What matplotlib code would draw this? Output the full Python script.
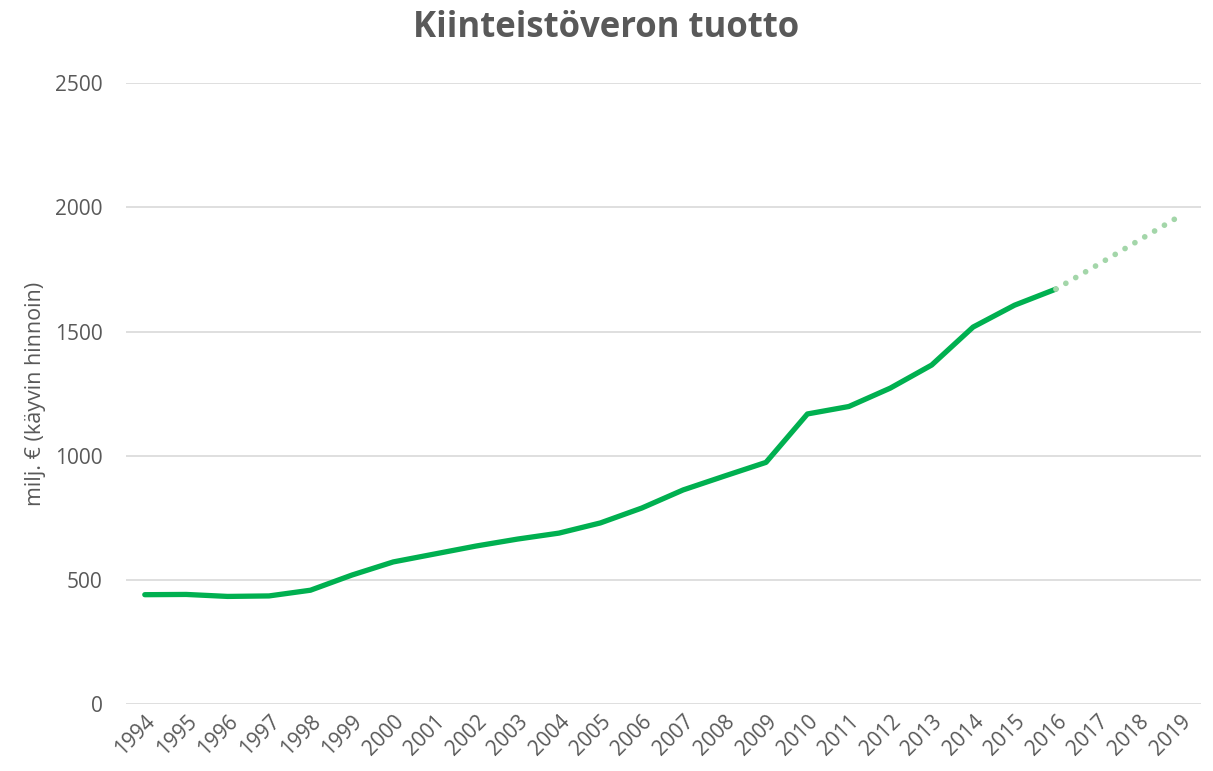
import matplotlib
matplotlib.use("Agg")
import matplotlib.pyplot as plt

years = [str(y) for y in range(1994, 2020)]
actual = [440, 441, 433, 435, 458, 519, 572, 604, 636, 664, 688, 729, 789, 862, 918, 973,
          1168, 1198, 1272, 1365, 1518, 1606, 1671]
projection = [1671, 1768, 1867, 1966]

plt.rcParams['font.family'] = ['Open Sans', 'DejaVu Sans']

fig = plt.figure(figsize=(12.13, 7.71), dpi=100)
ax = fig.add_axes([0.104, 0.087, 0.886, 0.805])

x_act = list(range(len(actual)))
x_proj = list(range(len(actual) - 1, len(actual) - 1 + len(projection)))

ax.plot(x_act, actual, color='#00B050', lw=3.8, solid_capstyle='round', solid_joinstyle='round', zorder=3)
ax.plot(x_proj, projection, color='#A3D6A9', lw=4.1, linestyle=(0, (0.01, 2.0)),
        dash_capstyle='round', zorder=3)

ax.set_xlim(-0.45, 25.5)
ax.set_ylim(0, 2500)
ax.set_yticks([0, 500, 1000, 1500, 2000, 2500])
ax.set_xticks(range(len(years)))
ax.set_xticklabels(years, rotation=45, ha='right', rotation_mode='anchor')
ax.grid(axis='y', color='#d9d9d9', lw=1.2)
ax.set_axisbelow(True)
for s in ax.spines.values():
    s.set_visible(False)
ax.tick_params(axis='both', length=0, labelsize=15, colors='#595959')
ax.tick_params(axis='y', pad=17)
ax.tick_params(axis='x', pad=5)
ax.set_ylabel('milj. € (käyvin hinnoin)', fontsize=15.5, color='#595959', labelpad=6)
fig.suptitle('Kiinteistöveron tuotto', fontsize=25, fontweight='bold', color='#595959', y=0.987)

fig.savefig('out.png', dpi=100)
